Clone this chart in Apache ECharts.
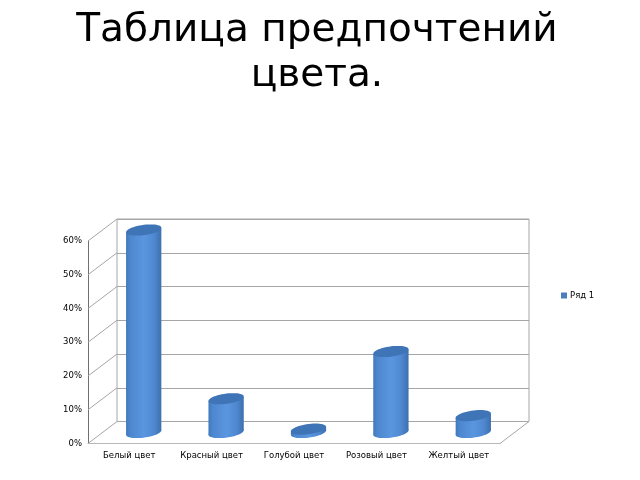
<!DOCTYPE html>
<html><head><meta charset="utf-8">
<script src="https://cdn.jsdelivr.net/npm/echarts@6/dist/echarts.min.js"></script>
<style>html,body{margin:0;padding:0;background:#fff}#c{width:640px;height:480px}</style>
</head><body><div id="c"></div>
<script>
const categories = ['Белый цвет','Красный цвет','Голубой цвет','Розовый цвет','Желтый цвет'];
const values = [60,10,1,24,5];
const yTicks = [0,10,20,30,40,50,60];
const seriesName = 'Ряд 1';
const titleText = 'Таблица предпочтений\nцвета.';

const DX = 29, DY = -22;
const front = {left:88, top:241, width:412, height:202.5};
const FONT = '"DejaVu Sans", sans-serif';
const wallColor = '#a6a6a6';
const chart = echarts.init(document.getElementById('c'), null, {renderer:'canvas'});

function ellipsePts(cx, cy){
  const a=16.2, dx=7, dy=-5.6, pts=[];
  for(let i=0;i<48;i++){
    const t=i/48*Math.PI*2;
    pts.push([cx+Math.cos(t)*a+Math.sin(t)*dx, cy+Math.sin(t)*dy]);
  }
  return pts;
}
function bodyGrad(){
  return new echarts.graphic.LinearGradient(0,0,1,0,[
    {offset:0,color:'#4279bd'},{offset:0.12,color:'#4d87ce'},
    {offset:0.5,color:'#5a96e0'},{offset:0.8,color:'#4f88d0'},
    {offset:1,color:'#3d6fad'}]);
}
function renderBar(params, api){
  const c = api.coord([api.value(0), 0]);
  const t = api.coord([api.value(0), api.value(1)]);
  const cx = c[0]+DX/2, by = c[1]+DY/2, ty = t[1]+DY/2;
  const hw = Math.hypot(16.2,7), off = 5.6*7/hw;
  return {type:'group', children:[
    {type:'polygon', shape:{points:ellipsePts(cx,by)}, style:{fill:bodyGrad()}},
    {type:'polygon', shape:{points:[[cx-hw,ty+off],[cx+hw,ty-off],[cx+hw,by-off],[cx-hw,by+off]]}, style:{fill:bodyGrad()}},
    {type:'polygon', shape:{points:ellipsePts(cx,ty)}, style:{fill:'#3f74b6'}}
  ]};
}
function renderDiag(params, api){
  const p = api.coord([0, api.value(0)]);
  const x = params.coordSys.x;
  return {type:'line', shape:{x1:x,y1:p[1],x2:x+DX,y2:p[1]+DY}, style:{stroke:wallColor,lineWidth:1}};
}
function renderFloor(params, api){
  const s = params.coordSys, x = s.x+s.width, y = s.y+s.height;
  return {type:'line', shape:{x1:x,y1:y,x2:x+DX,y2:y+DY}, style:{stroke:wallColor,lineWidth:1}};
}

chart.setOption({
  animation:false,
  backgroundColor:'#fff',
  title:{text:titleText,left:312,top:3,textAlign:'center',
    textStyle:{fontFamily:FONT,fontSize:39,fontWeight:'normal',color:'#000',lineHeight:45}},
  legend:{data:[seriesName],left:556,top:286,icon:'rect',itemWidth:6,itemHeight:6,itemGap:4,
    textStyle:{fontFamily:FONT,fontSize:8.5,color:'#000',padding:[0,0,0,-2]}},
  grid:[
    {left:front.left,top:front.top,width:front.width,height:front.height},
    {left:front.left+DX,top:front.top+DY,width:front.width,height:front.height,show:true,
     borderColor:wallColor,borderWidth:1,backgroundColor:'transparent'}
  ],
  xAxis:[
    {type:'category',gridIndex:0,data:categories,
     axisLine:{show:true,lineStyle:{color:'#b8b8b8'}},axisTick:{show:false},
     axisLabel:{fontFamily:FONT,fontSize:8.5,color:'#000',margin:8,interval:0}},
    {type:'category',gridIndex:1,data:categories,show:false}
  ],
  yAxis:[
    {type:'value',gridIndex:0,min:0,max:60,interval:10,
     axisLine:{show:true,lineStyle:{color:'#707070'}},axisTick:{show:false},splitLine:{show:false},
     axisLabel:{fontFamily:FONT,fontSize:8.5,color:'#000',margin:6,formatter:'{value}%'}},
    {type:'value',gridIndex:1,min:0,max:60,interval:10,
     axisLine:{show:false},axisTick:{show:false},axisLabel:{show:false},
     splitLine:{show:true,lineStyle:{color:wallColor,width:1}}}
  ],
  series:[
    {type:'custom',name:'diag',xAxisIndex:0,yAxisIndex:0,data:yTicks.map(v=>[v]),encode:{y:0},renderItem:renderDiag,silent:true,z:1},
    {type:'custom',name:'floor',xAxisIndex:0,yAxisIndex:0,data:[[0]],encode:{y:0},renderItem:renderFloor,silent:true,z:1},
    {type:'custom',name:seriesName,xAxisIndex:0,yAxisIndex:0,
     data:categories.map((c,i)=>[i,values[i]]),encode:{x:0,y:1},
     itemStyle:{color:'#4a7ebb'},renderItem:renderBar,z:3}
  ]
});
</script></body></html>
